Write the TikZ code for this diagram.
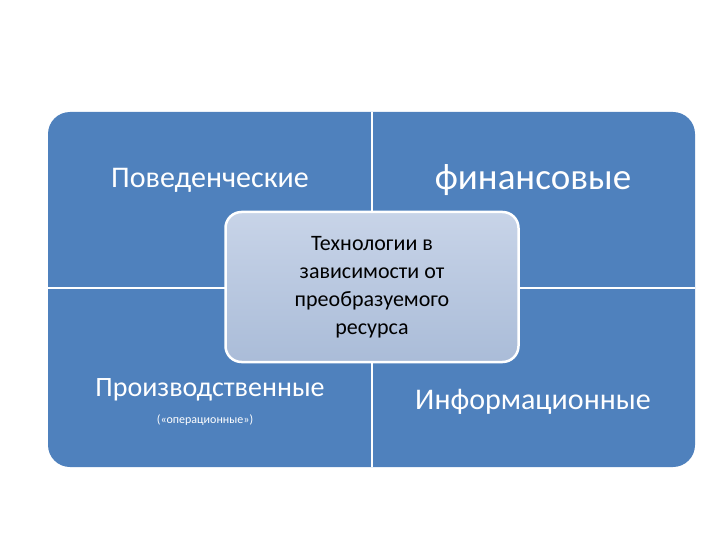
\documentclass[tikz,border=0pt]{standalone}
\usepackage{fontspec}
\setmainfont{Carlito}
\begin{document}
\begin{tikzpicture}[x=1pt,y=-1pt,
  quad/.style={text=white,anchor=center,inner sep=0pt},
  center/.style={draw=white,line width=2.5pt,rounded corners=16pt,top color=blue!8!white!70!cyan!20!gray!30,bottom color=blue!20!gray!40,align=center,font=\fontsize{22}{28}\selectfont,text=black,minimum width=293pt,minimum height=150pt}]
\useasboundingbox (0,0) rectangle (720,540);
\fill[fill={rgb,255:red,79;green,129;blue,189},rounded corners=22pt] (48,112) rectangle (695,467);
\draw[white,line width=2pt] (372,112) -- (372,467);
\draw[white,line width=2pt] (48,288) -- (695,288);
\node[quad,font=\fontsize{30}{36}\selectfont] (a) at (210,180) {Поведенческие};
\node[quad,font=\fontsize{37}{44}\selectfont] (b) at (533,180) {финансовые};
\node[quad,font=\fontsize{28}{34}\selectfont] (c) at (210,390) {Производственные};
\node[quad,font=\fontsize{12}{14}\selectfont] (c2) at (205,420) {(«операционные»)};
\node[quad,font=\fontsize{30}{36}\selectfont] (d) at (533,402) {Информационные};
\node[center,top color={rgb,255:red,200;green,212;blue,232},bottom color={rgb,255:red,170;green,188;blue,216}] (m) at (372,287) {Технологии в\\зависимости от\\преобразуемого\\ресурса};
\end{tikzpicture}
\end{document}
